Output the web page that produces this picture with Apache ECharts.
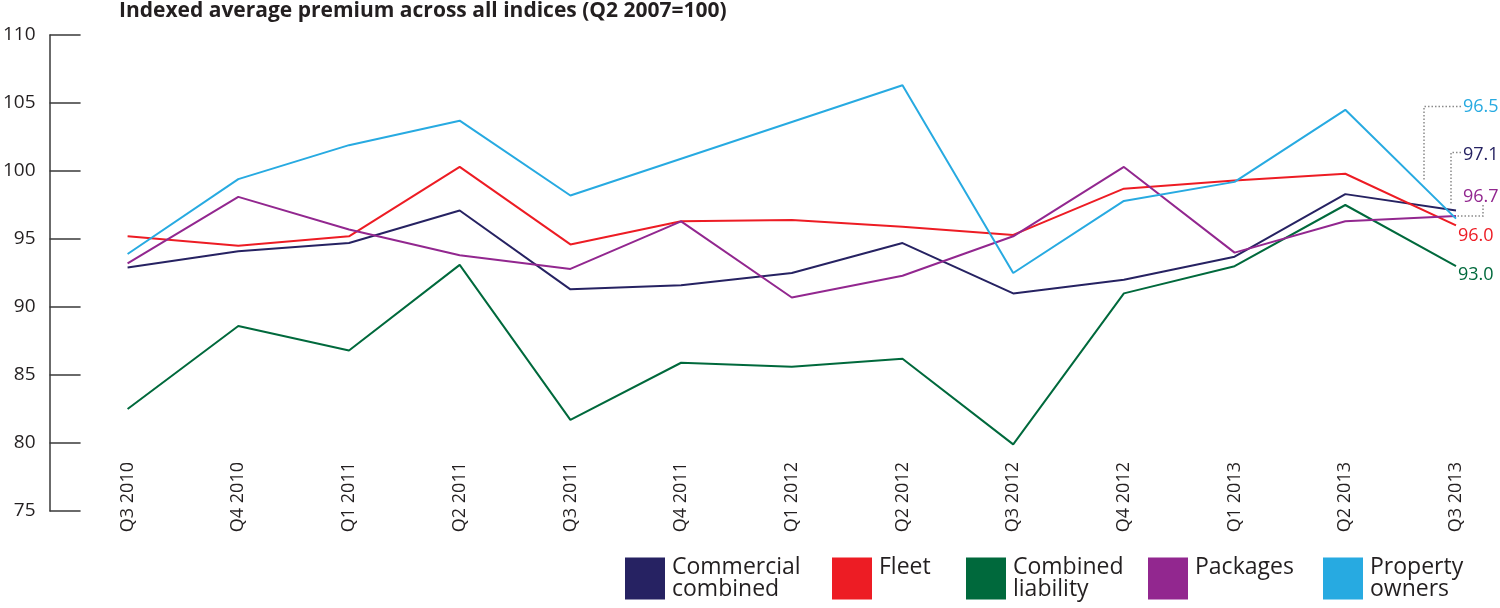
<!DOCTYPE html>
<html>
<head>
<meta charset="utf-8">
<script src="https://cdn.jsdelivr.net/npm/echarts@6/dist/echarts.min.js"></script>
<style>
html,body{margin:0;padding:0;background:#fff;}
#chart{width:1500px;height:608px;}
</style>
</head>
<body>
<div id="chart"></div>
<script>
const titleText = 'Indexed average premium across all indices (Q2 2007=100)';
const categories = ['Q3 2010','Q4 2010','Q1 2011','Q2 2011','Q3 2011','Q4 2011','Q1 2012','Q2 2012','Q3 2012','Q4 2012','Q1 2013','Q2 2013','Q3 2013'];
const seriesNames = ['Commercial combined','Fleet','Combined liability','Packages','Property owners'];
const legendLabels = ['Commercial\ncombined','Fleet\n ','Combined\nliability','Packages\n ','Property\nowners'];
const commercialCombined = [92.9,94.1,94.7,97.1,91.3,91.6,92.5,94.7,91.0,92.0,93.7,98.3,97.1];
const fleet = [95.2,94.5,95.2,100.3,94.6,96.3,96.4,95.9,95.3,98.7,99.3,99.8,96.0];
const combinedLiability = [82.5,88.6,86.8,93.1,81.7,85.9,85.6,86.2,79.9,91.0,93.0,97.5,93.0];
const packages = [93.2,98.1,95.7,93.8,92.8,96.3,90.7,92.3,95.2,100.3,94.0,96.3,96.7];
const propertyOwners = [93.9,99.4,101.9,103.7,98.2,100.9,103.6,106.3,92.5,97.8,99.2,104.5,96.5];
const yMin = 75, yMax = 110, yStep = 5;

const values = [commercialCombined, fleet, combinedLiability, packages, propertyOwners];
const colors = ['#262262','#ED1C24','#00693C','#92278F','#27AAE1'];
const labelOffsets = [[5,-56],[0,10],[0,9],[5,-19],[5,-112]];
const legendLefts = [625,832,966,1148,1323];
const FONT = '"Open Sans", "Noto Sans", sans-serif';

const chart = echarts.init(document.getElementById('chart'));

const series = values.map((d,i)=>({
  name: seriesNames[i],
  type: 'line',
  data: d,
  symbol: 'none',
  lineStyle: {color: colors[i], width: 2},
  itemStyle: {color: colors[i]},
  z: 2 + i,
  endLabel: {
    show: true,
    formatter: p => Number(p.value).toFixed(1),
    color: colors[i],
    fontFamily: FONT,
    fontSize: 18,
    distance: 2,
    offset: labelOffsets[i]
  }
}));

const legends = seriesNames.map((n,i)=>({
  data: [n],
  left: legendLefts[i],
  top: 556,
  orient: 'horizontal',
  icon: 'rect',
  itemWidth: 40,
  itemHeight: 42,
  itemGap: 0,
  padding: 0,
  selectedMode: false,
  formatter: () => legendLabels[i],
  textStyle: {fontFamily: FONT, fontSize: 23, lineHeight: 22, color: '#231F20', padding: [0,0,0,2]}
}));

chart.setOption({
  animation: false,
  backgroundColor: '#fff',
  title: {
    text: titleText,
    left: 119, top: 1, padding: 0,
    textStyle: {fontFamily: FONT, fontWeight: 'bold', fontSize: 21, color: '#231F20'}
  },
  legend: legends,
  grid: {left: 122, right: 44, top: 35, bottom: 97, containLabel: false},
  xAxis: {
    type: 'category',
    data: categories,
    boundaryGap: false,
    offset: -55,
    axisLine: {show: false},
    axisTick: {show: false},
    splitLine: {show: false},
    axisLabel: {rotate: 90, margin: 6, fontFamily: FONT, fontSize: 18, color: '#231F20', interval: 0}
  },
  yAxis: {
    type: 'value',
    min: yMin, max: yMax, interval: yStep,
    offset: 78,
    axisLine: {show: true, lineStyle: {color: '#3a3a3a', width: 1.5}},
    axisTick: {show: true, inside: true, length: 31, lineStyle: {color: '#3a3a3a', width: 1.5}},
    splitLine: {show: false},
    axisLabel: {margin: 14, fontFamily: FONT, fontSize: 19, color: '#231F20'}
  },
  series: series
});

// dotted leader lines from labels to line ends
const last = categories.length - 1;
const P = values.map((d,i)=>chart.convertToPixel({seriesIndex: i}, [last, d[last]]));
const dot = {stroke: '#8a8a8a', lineWidth: 1.5, lineDash: [1.5, 2], fill: null};
const prop = P[4], com = P[0], pack = P[3];
const propLy = prop[1] + labelOffsets[4][1];
const comLy = com[1] + labelOffsets[0][1];
const packLy = pack[1] + labelOffsets[3][1];
chart.setOption({
  graphic: [
    {type: 'polyline', silent: true, shape: {points: [[prop[0]+5, propLy],[prop[0]-32, propLy],[prop[0]-32, prop[1]-37]]}, style: dot},
    {type: 'polyline', silent: true, shape: {points: [[com[0]+5, comLy-2],[com[0]-5, comLy-2],[com[0]-5, com[1]-5]]}, style: dot},
    {type: 'polyline', silent: true, shape: {points: [[pack[0]+27, packLy+8],[pack[0]+27, pack[1]],[pack[0]+1, pack[1]]]}, style: dot}
  ]
});
</script>
</body>
</html>
